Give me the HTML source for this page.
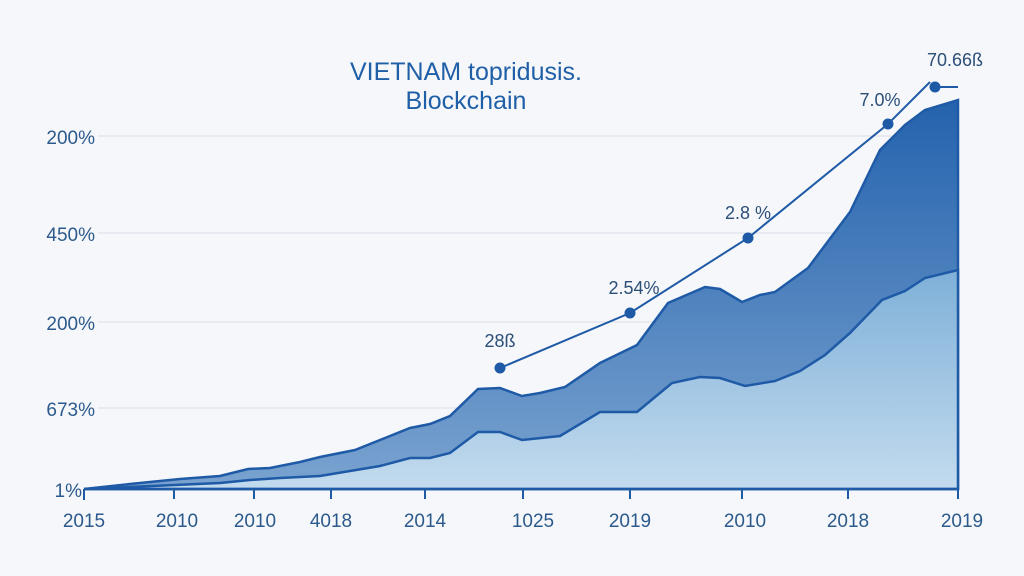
<!DOCTYPE html><html><head><style>body{margin:0;background:#f5f7fa}svg{display:block}text{font-family:"Liberation Sans",sans-serif}</style></head><body>
<svg width="1024" height="576" viewBox="0 0 1024 576">
<defs>
<linearGradient id="gu" x1="0" y1="0" x2="0" y2="1"><stop offset="0" stop-color="#2462ad"/><stop offset="1" stop-color="#7aa3d0"/></linearGradient>
<linearGradient id="gl" x1="0" y1="0" x2="0" y2="1"><stop offset="0" stop-color="#7fb0d8"/><stop offset="1" stop-color="#c3dbee"/></linearGradient>
</defs>
<rect width="1024" height="576" fill="#f5f7fa"/>
<g stroke="#dfe4ec" stroke-width="1.2">
<line x1="98" y1="136" x2="958" y2="136"/><line x1="98" y1="233" x2="958" y2="233"/><line x1="98" y1="322" x2="958" y2="322"/><line x1="98" y1="408" x2="958" y2="408"/></g>
<text x="466" y="80" font-size="25" fill="#1f5fa8" text-anchor="middle">VIETNAM topridusis.</text>
<text x="466" y="109" font-size="25" fill="#1f5fa8" text-anchor="middle">Blockchain</text>
<path d="M84,489 L130,484 180,479 220,476 248,469 270,468 300,462 320,457 355,450 385,438 410,428 430,424 450,416 478,389 500,388 522,396 540,393 565,387 600,363 637,345 668,303 705,287 720,289 742,302 760,295 775,292 808,268 850,212 880,150 905,125 925,110 958,100 958,489Z" fill="url(#gu)" stroke="#1f5aa6" stroke-width="2.5"/>
<path d="M84,489 L130,487 220,483 250,480 280,478 320,476 350,471 380,466 410,458 430,458 450,453 478,432 500,432 522,440 560,436 600,412 637,412 672,383 700,377 720,378 745,386 775,381 800,371 825,355 850,333 882,300 905,291 925,278 958,270 958,489Z" fill="url(#gl)" stroke="#1f5aa6" stroke-width="2.5"/>
<line x1="958" y1="100" x2="958" y2="489" stroke="#1f5aa6" stroke-width="2"/>
<line x1="84" y1="489" x2="958" y2="489" stroke="#1f5aa6" stroke-width="2.5"/>
<g stroke="#1f5aa6" stroke-width="2"><line x1="84" y1="489" x2="84" y2="500"/><line x1="174" y1="489" x2="174" y2="499"/><line x1="254" y1="489" x2="254" y2="499"/><line x1="331" y1="489" x2="331" y2="499"/><line x1="425" y1="489" x2="425" y2="499"/><line x1="523" y1="489" x2="523" y2="499"/><line x1="630" y1="489" x2="630" y2="499"/><line x1="742" y1="489" x2="742" y2="499"/><line x1="848" y1="489" x2="848" y2="499"/><line x1="958" y1="489" x2="958" y2="499"/></g>
<polyline points="500,368 630,313 748,238 888,124 930,82" fill="none" stroke="#1f5aa6" stroke-width="2"/>
<line x1="935" y1="87" x2="958" y2="87" stroke="#1f5aa6" stroke-width="2"/>
<g fill="#1f5aa6"><circle cx="500" cy="368" r="5.5"/><circle cx="630" cy="313" r="5.5"/><circle cx="748" cy="238" r="5.5"/><circle cx="888" cy="124" r="5.5"/><circle cx="935" cy="87" r="5.5"/></g>
<g font-size="18" fill="#2c4f78" text-anchor="middle">
<text x="500" y="347">28ß</text><text x="634" y="294">2.54%</text><text x="748" y="219">2.8 %</text><text x="880" y="106">7.0%</text><text x="955" y="66">70.66ß</text></g>
<g font-size="19" fill="#2c5a8c" text-anchor="end">
<text x="95" y="144">200%</text><text x="95" y="241">450%</text><text x="95" y="330">200%</text><text x="95" y="416">673%</text><text x="82" y="497">1%</text></g>
<g font-size="19" fill="#2c5a8c" text-anchor="middle">
<text x="84" y="527">2015</text><text x="177" y="527">2010</text><text x="255" y="527">2010</text><text x="331" y="527">4018</text><text x="425" y="527">2014</text><text x="533" y="527">1025</text><text x="630" y="527">2019</text><text x="745" y="527">2010</text><text x="848" y="527">2018</text><text x="962" y="527">2019</text></g>
</svg></body></html>
